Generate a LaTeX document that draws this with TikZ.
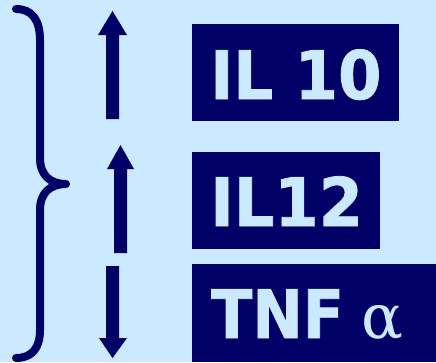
\documentclass[tikz,border=0pt]{standalone}
\usepackage{fontspec}
\usepackage{graphicx}
\setmainfont{DejaVu Sans}
\newfontfamily\labelfont[FakeBold=1.2]{DejaVu Sans Bold}
\newfontfamily\greekserif{DejaVu Serif}
\definecolor{bgblue}{RGB}{204,234,255}
\definecolor{navy}{RGB}{0,0,102}
\tikzset{
  box/.style={fill=navy, draw=none, anchor=north west, inner sep=0pt},
  label/.style={anchor=base west, inner sep=0pt, text=bgblue, font=\labelfont\fontsize{67}{67}\selectfont},
  arrowshape/.style={fill=navy, draw=none},
  bracestyle/.style={draw=navy, line width=8pt, line cap=round, line join=round}
}
\begin{document}
\begin{tikzpicture}[x=1pt,y=-1pt]
\fill[bgblue] (0,0) rectangle (436,362);
\useasboundingbox (0,0) rectangle (436,362);
% boxes
\node[box, minimum width=207pt, minimum height=97pt] (b1) at (192,24) {};
\node[box, minimum width=188pt, minimum height=97pt] (b2) at (192,152) {};
\node[box, minimum width=244pt, minimum height=98pt] (b3) at (192,264) {};
% labels
\node[label] (t1) at (210,99) {\scalebox{0.93}[1]{IL 10}};
\node[label] (t2) at (210,226) {\scalebox{0.95}[1]{IL12}};
\node[label] (t3) at (211,338) {\scalebox{0.9}[1]{TNF}\hspace{18pt}{\greekserif\fontsize{62}{62}\selectfont α}};
% arrows
\fill[arrowshape] (106,119) -- (106,35) -- (98,35) -- (112.5,11) -- (127,35) -- (119,35) -- (119,119) -- cycle;
\fill[arrowshape] (114,253) -- (114,169) -- (107,169) -- (120.5,145) -- (134,169) -- (127,169) -- (127,253) -- cycle;
\fill[arrowshape] (106,266) -- (106,338) -- (99,338) -- (112.5,358) -- (127,338) -- (119,338) -- (119,266) -- cycle;
% brace
\draw[bracestyle] (16,9) .. controls (32,9) and (40,20) .. (40,40) -- (40,158)
  .. controls (40,175) and (50,184) .. (66,184)
  .. controls (50,184) and (40,193) .. (40,210) -- (40,330)
  .. controls (40,348) and (32,358) .. (16,358);
\end{tikzpicture}
\end{document}
